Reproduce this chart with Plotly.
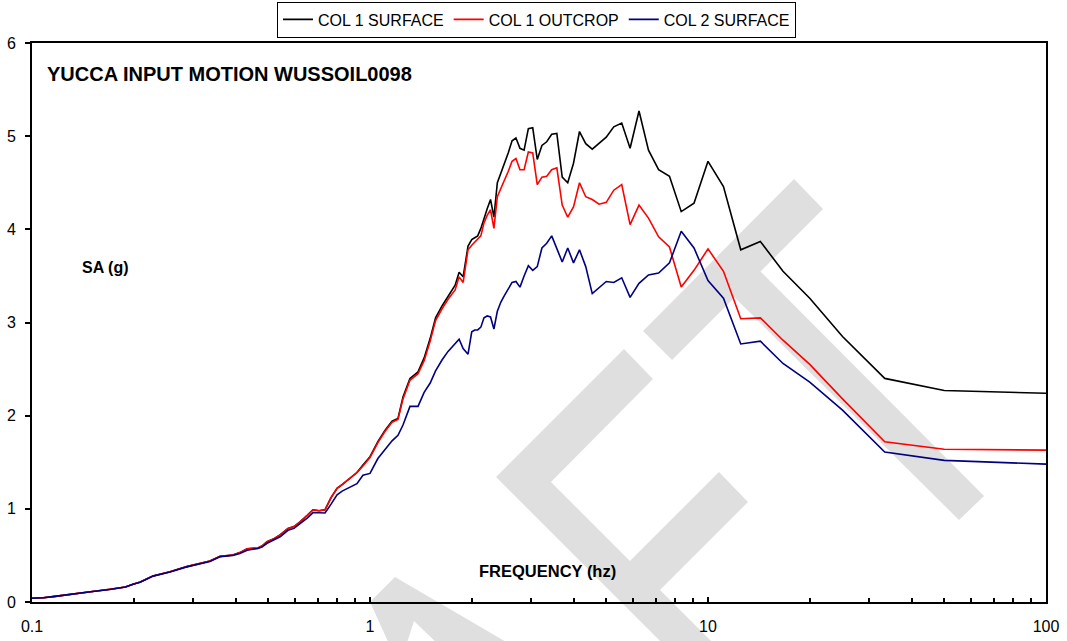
import plotly.graph_objects as go

# Response spectra (frequency in Hz, spectral acceleration in g)
FREQ_HZ = [
    0.100, 0.108, 0.117, 0.130, 0.149, 0.170, 0.189, 0.199, 0.209, 0.228,
    0.256, 0.287, 0.314, 0.336, 0.360, 0.393, 0.412, 0.433, 0.466, 0.479,
    0.496, 0.520, 0.542, 0.572, 0.596, 0.621, 0.652, 0.678, 0.707, 0.736,
    0.767, 0.799, 0.827, 0.861, 0.915, 0.953, 1.000, 1.055, 1.107, 1.162,
    1.210, 1.252, 1.313, 1.387, 1.446, 1.507, 1.563, 1.635, 1.702, 1.786,
    1.835, 1.886, 1.950,
    2.000, 2.041, 2.083, 2.128, 2.174, 2.222, 2.273, 2.326, 2.381, 2.439,
    2.500, 2.564, 2.632, 2.703, 2.778, 2.857, 2.941, 3.030, 3.125, 3.226,
    3.333, 3.448, 3.571, 3.704, 3.846, 4.000, 4.167, 4.348, 4.545, 4.762,
    5.000, 5.263, 5.556, 5.882, 6.250, 6.667, 7.143, 7.692, 8.333, 9.091,
    10.000, 11.111, 12.500, 14.286, 16.667, 20.000, 25.000, 33.333, 50.000, 100.000,
]

COL1_SURFACE = [
    0.04, 0.045, 0.06, 0.085, 0.11, 0.136, 0.16, 0.19, 0.215, 0.28,
    0.325, 0.38, 0.415, 0.44, 0.49, 0.505, 0.53, 0.57, 0.58, 0.60,
    0.647, 0.68, 0.72, 0.79, 0.81, 0.86, 0.93, 0.99, 0.98, 0.99,
    1.12, 1.22, 1.26, 1.31, 1.39, 1.47, 1.56, 1.72, 1.84, 1.94,
    1.97, 2.20, 2.40, 2.47, 2.62, 2.83, 3.05, 3.18, 3.28, 3.40,
    3.54, 3.49, 3.82,
    3.89, 3.91, 3.93, 4.01, 4.12, 4.22, 4.32, 4.13, 4.50, 4.60,
    4.70, 4.82, 4.95, 4.98, 4.87, 4.85, 5.08, 5.09, 4.75, 4.90,
    4.94, 5.02, 5.03, 4.56, 4.50, 4.71, 5.05, 4.92, 4.86, 4.92,
    4.99, 5.10, 5.14, 4.87, 5.27, 4.85, 4.64, 4.57, 4.19, 4.28,
    4.73, 4.46, 3.78, 3.87, 3.55, 3.26, 2.85, 2.40, 2.27, 2.24,
]

COL1_OUTCROP = [
    0.04, 0.045, 0.06, 0.085, 0.11, 0.136, 0.16, 0.19, 0.215, 0.28,
    0.325, 0.38, 0.415, 0.44, 0.49, 0.505, 0.53, 0.57, 0.58, 0.60,
    0.647, 0.68, 0.72, 0.79, 0.81, 0.86, 0.93, 0.99, 0.98, 0.99,
    1.12, 1.22, 1.26, 1.31, 1.39, 1.46, 1.55, 1.71, 1.83, 1.93,
    1.96, 2.18, 2.38, 2.45, 2.59, 2.80, 3.02, 3.15, 3.25, 3.35,
    3.49, 3.43, 3.78,
    3.83, 3.86, 3.89, 3.93, 4.07, 4.15, 4.21, 4.01, 4.35, 4.45,
    4.53, 4.62, 4.73, 4.76, 4.64, 4.64, 4.83, 4.82, 4.48, 4.56,
    4.57, 4.64, 4.66, 4.26, 4.13, 4.24, 4.50, 4.35, 4.32, 4.27,
    4.29, 4.42, 4.48, 4.05, 4.26, 4.12, 3.92, 3.81, 3.38, 3.56,
    3.79, 3.55, 3.04, 3.05, 2.81, 2.55, 2.18, 1.72, 1.64, 1.63,
]

COL2_SURFACE = [
    0.04, 0.045, 0.06, 0.085, 0.11, 0.135, 0.16, 0.19, 0.213, 0.278,
    0.322, 0.377, 0.41, 0.435, 0.485, 0.50, 0.52, 0.555, 0.575, 0.59,
    0.63, 0.665, 0.70, 0.77, 0.79, 0.84, 0.90, 0.96, 0.955, 0.955,
    1.05, 1.15, 1.19, 1.22, 1.27, 1.36, 1.38, 1.54, 1.63, 1.73,
    1.79, 1.90, 2.10, 2.10, 2.25, 2.35, 2.48, 2.60, 2.69, 2.78,
    2.82, 2.72, 2.66,
    2.90, 2.92, 2.92, 2.95, 3.05, 3.07, 3.06, 2.93, 3.12, 3.22,
    3.29, 3.36, 3.43, 3.44, 3.38, 3.50, 3.61, 3.56, 3.60, 3.80,
    3.85, 3.93, 3.80, 3.65, 3.80, 3.64, 3.78, 3.60, 3.31, 3.37,
    3.44, 3.43, 3.48, 3.27, 3.42, 3.51, 3.53, 3.64, 3.98, 3.80,
    3.45, 3.26, 2.77, 2.80, 2.56, 2.36, 2.06, 1.61, 1.52, 1.48,
]

SERIES_NAMES = ["COL 1 SURFACE", "COL 1 OUTCROP", "COL 2 SURFACE"]
SERIES_COLORS = ["#000000", "#FF0000", "#000080"]

X_TICK_VALUES = [0.1, 1, 10, 100]
X_TICK_TEXT = ["0.1", "1", "10", "100"]
X_MINOR_VALUES = [m * d for d in (0.1, 1, 10) for m in range(2, 10)]

FONT = "Liberation Sans, Arial, sans-serif"

W, H = 1067, 641
M_L, M_R, M_T, M_B = 32, 21, 43, 39
PLOT_W = W - M_L - M_R
PLOT_H = H - M_T - M_B


def to_paper(pts):
    """Convert page pixel positions to paper fractions for layout shapes."""
    return [((x - M_L) / PLOT_W, (H - M_B - y) / PLOT_H) for x, y in pts]


def path_of(pts):
    p = to_paper(pts)
    return "M " + " L ".join(f"{x:.4f},{y:.4f}" for x, y in p) + " Z"


# Light grey background stamp drawn behind the curves
STAMP_OUTLINES = [
    [(794, 179), (823, 209), (672, 360), (643, 331)],
    [(746, 257), (984, 496), (959, 520), (720, 283)],
    [(496, 477), (624, 349), (653, 379), (551, 482), (630, 561), (719, 472),
     (748, 502), (660, 590), (716, 646), (665, 646)],
    [(395, 577), (513, 646), (440, 646), (414, 621), (406, 646),
     (390, 646), (370, 602)],
]

fig = go.Figure()

for name, color, ys in zip(SERIES_NAMES, SERIES_COLORS,
                           [COL1_SURFACE, COL1_OUTCROP, COL2_SURFACE]):
    fig.add_trace(go.Scatter(
        x=FREQ_HZ, y=ys, name=name, mode="lines",
        line=dict(color=color, width=1.6),
    ))

shapes = [
    dict(type="path", xref="paper", yref="paper", path=path_of(o),
         fillcolor="#dfdfdf", line=dict(width=0), layer="below")
    for o in STAMP_OUTLINES
]

annotations = [
    dict(text="<b>YUCCA INPUT MOTION WUSSOIL0098</b>", xref="paper", yref="paper",
         x=(45 - M_L) / PLOT_W, y=(H - M_B - 74) / PLOT_H, xanchor="left",
         yanchor="middle", showarrow=False, font=dict(size=20, color="black", family=FONT)),
    dict(text="<b>SA (g)</b>", xref="paper", yref="paper",
         x=(80 - M_L) / PLOT_W, y=(H - M_B - 267) / PLOT_H, xanchor="left",
         yanchor="middle", showarrow=False, font=dict(size=16, color="black", family=FONT)),
    dict(text="<b>FREQUENCY (hz)</b>", xref="paper", yref="paper",
         x=(477 - M_L) / PLOT_W, y=(H - M_B - 571) / PLOT_H, xanchor="left",
         yanchor="middle", showarrow=False, font=dict(size=16.5, color="black", family=FONT)),
]

fig.update_layout(
    width=W, height=H,
    margin=dict(l=M_L, r=M_R, t=M_T, b=M_B, autoexpand=False),
    paper_bgcolor="white", plot_bgcolor="white",
    font=dict(family=FONT, color="black", size=16),
    showlegend=True,
    legend=dict(
        orientation="h", x=(536.5 - M_L) / PLOT_W, xanchor="center",
        y=(H - M_B - 1.5) / PLOT_H, yanchor="top",
        bordercolor="black", borderwidth=1, bgcolor="white",
        font=dict(size=16, family=FONT, color="black"),
    ),
    shapes=shapes,
    annotations=annotations,
    xaxis=dict(
        type="log", range=[-1, 2],
        tickmode="array", tickvals=X_TICK_VALUES, ticktext=X_TICK_TEXT,
        ticks="inside", ticklen=5, tickwidth=1.5, tickcolor="black",
        minor=dict(tickmode="array", tickvals=X_MINOR_VALUES, ticks="inside",
                   ticklen=4, tickwidth=1.5, tickcolor="black", showgrid=False),
        showgrid=False, zeroline=False,
        showline=True, linecolor="black", linewidth=2, mirror=True,
        ticklabelstandoff=9,
        tickfont=dict(size=16, family=FONT, color="black"),
    ),
    yaxis=dict(
        range=[0, 6], tickmode="linear", tick0=0, dtick=1,
        ticks="outside", ticklen=5, tickwidth=1.5, tickcolor="black",
        showgrid=False, zeroline=False,
        showline=True, linecolor="black", linewidth=2, mirror=True,
        ticklabelstandoff=6,
        tickfont=dict(size=16, family=FONT, color="black"),
    ),
)

fig.write_html("out.html")
